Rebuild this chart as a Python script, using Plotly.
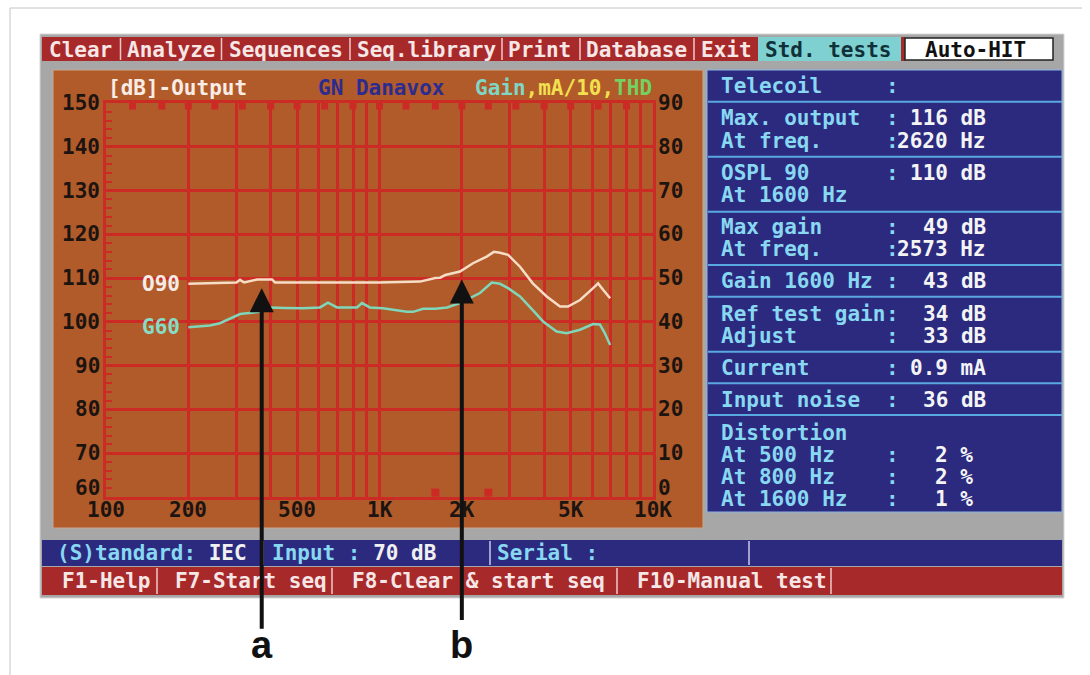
import math
import plotly.graph_objects as go

W, H = 1090, 675

# ---------------------------------------------------------------- data
# Output curve O90 (dB SPL, left axis)
o90_freq = [200, 240, 300, 309, 320, 357, 405, 415, 600, 1000, 1406, 1530,
            1600, 1665, 1740, 1969, 2197, 2465, 2620, 2757, 2952, 3264, 3634,
            4087, 4571, 4888, 5410, 6040, 6300, 6580, 6970]
o90_db = [108.7, 108.9, 109.0, 109.6, 109.0, 109.7, 109.7, 109.0, 109.0, 109.0,
          109.2, 109.8, 110.0, 110.1, 110.7, 111.5, 113.4, 114.9, 116.0, 115.8,
          115.3, 112.6, 108.8, 105.8, 103.5, 103.5, 105.0, 107.7, 108.8, 107.3,
          105.4]

# Gain curve G60 (dB gain, right axis)
g60_freq = [200, 240, 261, 284, 309, 366, 398, 450, 525, 606, 648, 699, 827,
            863, 922, 1030, 1158, 1259, 1327, 1443, 1600, 1766, 1969, 2143,
            2330, 2573, 2757, 2952, 3264, 3634, 3963, 4443, 4831, 5410, 6040,
            6400, 6670, 6970]
g60_gain = [38.8, 39.2, 39.7, 40.8, 41.8, 42.3, 43.3, 43.2, 43.1, 43.3, 44.4,
            43.3, 43.3, 44.3, 43.3, 43.1, 42.7, 42.3, 42.3, 43.0, 43.0, 43.3,
            44.3, 45.4, 46.6, 49.0, 48.7, 47.7, 45.8, 42.7, 40.1, 37.8, 37.4,
            38.2, 39.5, 39.4, 37.4, 34.7]

# Third-octave frequency markers along the top of the graph
third_octave = [125, 160, 200, 250, 315, 400, 500, 630, 800, 1000, 1250,
                1600, 2000, 2500, 3150, 4000, 5000, 6300, 8000]

# Distortion points (%, right axis)
thd_freq = [1600, 2500]
thd_pct = [1, 1]

grid_freqs = [100, 200, 300, 400, 500, 600, 700, 800, 900,
              1000, 2000, 3000, 4000, 5000, 6000, 7000, 8000, 9000, 10000]
freq_labels = {100: "100", 200: "200", 500: "500", 1000: "1K", 2000: "2K",
               5000: "5K", 10000: "10K"}
db_ticks = list(range(60, 151, 10))
gain_ticks = list(range(0, 91, 10))

current_ma = 0.9
input_noise_db = 36
ref_test_gain_db = 34
adjust_db = 33
distortion = [("At 500 Hz", 2), ("At 800 Hz", 2), ("At 1600 Hz", 1)]

# marked points on the output curve
point_a = (371, 107.7)
point_b = (2000, 109.7)

# ---------------------------------------------------------------- style
MONO = "DejaVu Sans Mono"
ORANGE = "#b15a2a"
GRID = "#cc2b25"
BLUE = "#2c2a7f"
RED = "#a8292a"
TEAL = "#7fd0d0"
CYAN = "#88d8f2"
WHITE = "#f4f4f4"
SEP = "#5aa8e0"
INK = "#1c1410"


def fx(p):
    return p / W


def fy(p):
    return 1 - p / H


shapes = []
annotations = []


def rect(x0, y0, x1, y1, fill, line=None, lw=1):
    shapes.append(dict(type="rect", xref="paper", yref="paper",
                       x0=fx(x0), x1=fx(x1), y0=fy(y1), y1=fy(y0),
                       fillcolor=fill, layer="below",
                       line=dict(color=line or fill, width=lw if line else 0)))


def line(x0, y0, x1, y1, color, lw=1.5):
    shapes.append(dict(type="line", xref="paper", yref="paper",
                       x0=fx(x0), x1=fx(x1), y0=fy(y0), y1=fy(y1),
                       layer="below", line=dict(color=color, width=lw)))


def text(x, y, s, color, anchor="left", size=21, family=MONO, weight="bold"):
    annotations.append(dict(xref="paper", yref="paper", x=fx(x), y=fy(y),
                            text=s, showarrow=False, xanchor=anchor,
                            yanchor="middle",
                            font=dict(family=family, size=size, color=color,
                                      weight=weight)))


def mono_font(color):
    return dict(family=MONO, size=21, color=color, weight="bold")


# outer frame
line(10, 8, 1082, 8, "#c4c4c4", 1)
line(10, 8, 10, 675, "#c4c4c4", 1)

# screen backdrop
rect(40, 34, 1064, 598, "#a7a7a7", "#d6d6d6", 1)

# menu bar
rect(42, 37, 758, 61, RED)
rect(758, 37, 901, 61, TEAL)
rect(901, 37, 905, 61, RED)
rect(905, 38, 1053, 60, "#ffffff", "#222222", 1.5)
for xs in [120.5, 221.5, 350, 502, 580, 694]:
    line(xs, 38, xs, 60, "#f0c8c8", 1.5)
menu = [("Clear", 47), ("Analyze", 125), ("Sequences", 227),
        ("Seq.library", 355), ("Print", 506), ("Database", 584), ("Exit", 699)]
for label, xs in menu:
    text(xs, 50, label, "#f6e6e6")
text(763, 50, "Std. tests", "#10303a")
text(923, 50, "Auto-HIT", "#111111")

# graph panel and info panel
rect(53, 70, 703, 528, ORANGE, "#c8a890", 1)
rect(707, 70, 1062, 512, BLUE, "#8ab4e4", 1)

# graph header
text(106, 88, "[dB]-Output", "#f8ece4")
text(316, 88, "GN Danavox", "#2c2c90")
text(473, 88, "Gain<span style='color:#f2e050'>,mA/10,</span>"
              "<span style='color:#74d060'>THD</span>", "#7fd6c4")

# axis labels, placed on the axis scales
for v in db_ticks:
    annotations.append(dict(xref="paper", yref="y", x=fx(102), y=v,
                            text=str(v), showarrow=False, xanchor="right",
                            yanchor="middle", yshift=9 if v == 60 else 0,
                            font=mono_font(INK)))
for v in gain_ticks:
    annotations.append(dict(xref="paper", yref="y2", x=fx(656), y=v,
                            text=str(v), showarrow=False, xanchor="left",
                            yanchor="middle", yshift=9 if v == 0 else 0,
                            font=mono_font(INK)))
for f, lab in freq_labels.items():
    annotations.append(dict(xref="x", yref="paper", x=math.log10(f),
                            y=fy(510), text=lab, showarrow=False,
                            xanchor="center", yanchor="middle",
                            font=mono_font(INK)))

# info panel contents derived from the curves
i_max = o90_db.index(max(o90_db))
g_max = g60_gain.index(max(g60_gain))
o90_1600 = o90_db[o90_freq.index(1600)]
g60_1600 = g60_gain[g60_freq.index(1600)]

rows = [
    ("Telecoil", ":", "", 86),
    ("Max. output", ":", f"{max(o90_db):.0f} dB", 118.3),
    ("At freq.", ":", f"{o90_freq[i_max]} Hz", 140.7),
    ("OSPL 90", ":", f"{o90_1600:.0f} dB", 172.7),
    ("At 1600 Hz", "", "", 195),
    ("Max gain", ":", f"{max(g60_gain):.0f} dB", 226.7),
    ("At freq.", ":", f"{g60_freq[g_max]} Hz", 249.3),
    ("Gain 1600 Hz", ":", f"{g60_1600:.0f} dB", 281),
    ("Ref test gain", ":", f"{ref_test_gain_db} dB", 314),
    ("Adjust", ":", f"{adjust_db} dB", 335.7),
    ("Current", ":", f"{current_ma} mA", 367.7),
    ("Input noise", ":", f"{input_noise_db} dB", 400),
    ("Distortion", "", "", 432.7),
]
for lab, colon, val, yy in rows:
    text(719, yy, lab, CYAN)
    if colon:
        text(892, yy, colon, CYAN, anchor="center")
    if val:
        text(988, yy, val, WHITE, anchor="right")

for (lab, pct), yy in zip(distortion, [455, 477.3, 499.3]):
    text(719, yy, lab, CYAN)
    text(892, yy, ":", CYAN, anchor="center")
    text(975, yy, f"{pct} %", WHITE, anchor="right")

for yy in [101.7, 156.7, 211.7, 265, 296.7, 351.7, 383.3, 415]:
    line(708, yy, 1062, yy, SEP, 2)

# status bar
rect(42, 540, 1062, 566, BLUE)
for xs in [263, 490, 749]:
    line(xs, 541, xs, 565, "#c8c8e8", 1.5)
text(55, 553, "(S)tandard: <span style='color:#f0f0f0'>IEC</span>", CYAN)
text(270, 553, "Input : <span style='color:#f0f0f0'>70 dB</span>", CYAN)
text(495, 553, "Serial :", CYAN)

# function key bar
rect(42, 567, 1062, 595, RED)
for xs in [157, 332, 617, 831]:
    line(xs, 568, xs, 594, "#f0c8c8", 1.5)
for label, xs in [("F1-Help", 60), ("F7-Start seq", 173),
                  ("F8-Clear & start seq", 350), ("F10-Manual test", 635)]:
    text(xs, 581, label, "#f6e6e6")

# curve labels
annotations.append(dict(xref="x", yref="y", x=math.log10(o90_freq[0]),
                        y=o90_db[0], text="O90", showarrow=False,
                        xanchor="right", xshift=-6, yanchor="middle",
                        font=mono_font("#f6ece6")))
annotations.append(dict(xref="x", yref="y2", x=math.log10(g60_freq[0]),
                        y=g60_gain[0], text="G60", showarrow=False,
                        xanchor="right", xshift=-6, yanchor="middle",
                        font=mono_font("#86dcc4")))

# arrows a / b
for (f, v), lab in [(point_a, "a"), (point_b, "b")]:
    annotations.append(dict(xref="x", yref="y", x=math.log10(f), y=v,
                            text="", showarrow=True, axref="pixel",
                            ayref="pixel", ax=0, ay=342, arrowhead=2,
                            arrowsize=1.2, arrowwidth=4, arrowcolor="#111111",
                            standoff=0, startstandoff=0))
    annotations.append(dict(xref="x", yref="paper", x=math.log10(f),
                            y=fy(645), text=lab, showarrow=False,
                            xanchor="center", yanchor="middle",
                            font=dict(family="Liberation Sans", size=38,
                                      color="#111111", weight="bold")))

# ---------------------------------------------------------------- traces
fig = go.Figure()
fig.add_trace(go.Scatter(x=third_octave, y=[149.3] * len(third_octave),
                         mode="markers", yaxis="y",
                         marker=dict(symbol="square", size=7, color=GRID),
                         hoverinfo="skip", showlegend=False))
fig.add_trace(go.Scatter(x=thd_freq, y=thd_pct, mode="markers", yaxis="y2",
                         marker=dict(symbol="square", size=8, color=GRID),
                         name="THD", showlegend=False))
fig.add_trace(go.Scatter(x=g60_freq, y=g60_gain, mode="lines", yaxis="y2",
                         line=dict(color="#7fd6b8", width=2.5),
                         name="G60", showlegend=False))
fig.add_trace(go.Scatter(x=o90_freq, y=o90_db, mode="lines", yaxis="y",
                         line=dict(color="#f7dcc6", width=2.5),
                         name="O90", showlegend=False))

fig.update_layout(
    width=W, height=H,
    margin=dict(l=0, r=0, t=0, b=0, pad=0, autoexpand=False),
    paper_bgcolor="#ffffff",
    plot_bgcolor=ORANGE,
    showlegend=False,
    shapes=shapes,
    annotations=annotations,
    xaxis=dict(type="log", range=[2, 4], domain=[fx(106), fx(653)],
               tickmode="array", tickvals=grid_freqs, showticklabels=False,
               showgrid=True, gridcolor=GRID, gridwidth=2.5,
               showline=True, linecolor=GRID, linewidth=2.5, mirror=True,
               ticks="", zeroline=False, automargin=False, fixedrange=True),
    yaxis=dict(range=[60, 150], domain=[fy(497), fy(103)],
               tickmode="array", tickvals=db_ticks, showticklabels=False,
               showgrid=True, gridcolor=GRID,
               gridwidth=2.5, showline=True, linecolor=GRID, linewidth=2.5,
               mirror=True, ticks="inside", ticklen=6, tickwidth=2,
               tickcolor=GRID, zeroline=False,
               minor=dict(tickmode="linear", tick0=60, dtick=2,
                          ticks="inside", ticklen=6, tickwidth=2,
                          tickcolor=GRID, showgrid=False),
               automargin=False, fixedrange=True),
    yaxis2=dict(range=[0, 90], overlaying="y", side="right",
                tickmode="array", tickvals=gain_ticks, showticklabels=False,
                showgrid=False, showline=False, zeroline=False, ticks="",
                automargin=False, fixedrange=True),
)

fig.write_html("out.html", config={"displayModeBar": False})
